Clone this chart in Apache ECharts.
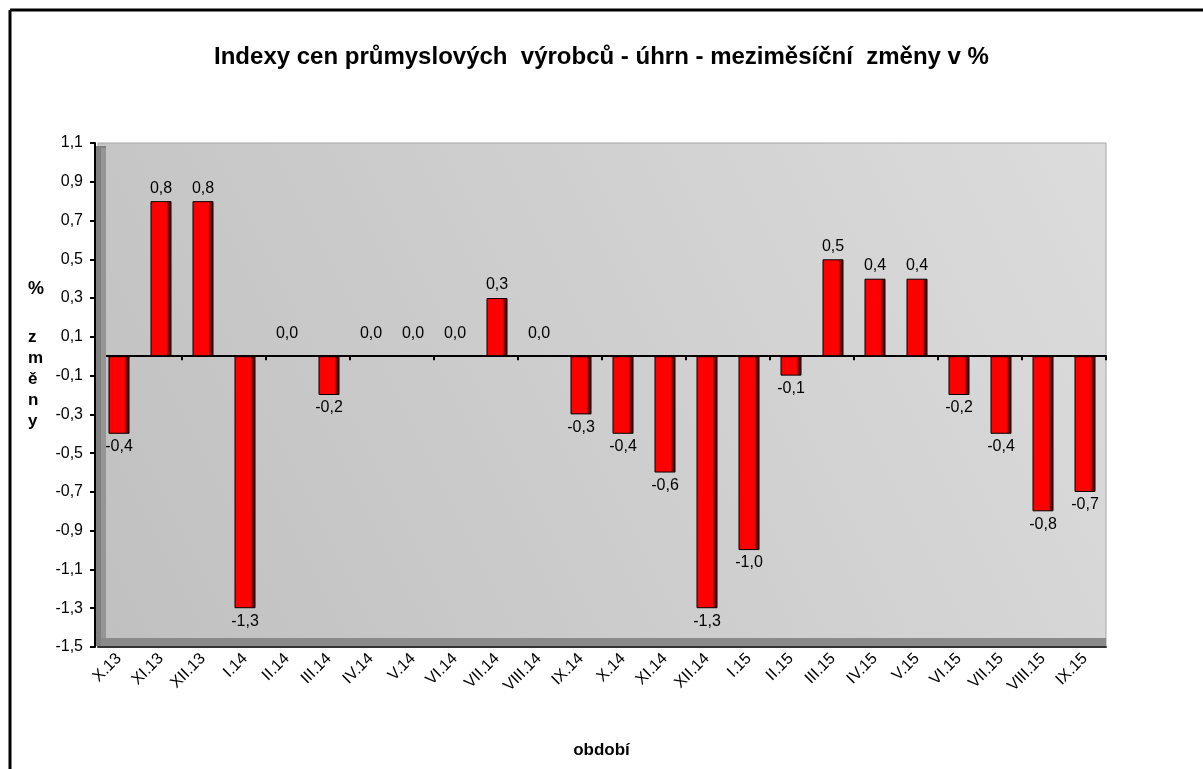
<!DOCTYPE html>
<html>
<head>
<meta charset="utf-8">
<script src="https://cdn.jsdelivr.net/npm/echarts@6/dist/echarts.min.js"></script>
<style>
html,body{margin:0;padding:0;background:#fff;}
#chart{width:1203px;height:769px;}
</style>
</head>
<body>
<div id="chart"></div>
<script>
const categories = ['X.13','XI.13','XII.13','I.14','II.14','III.14','IV.14','V.14','VI.14','VII.14','VIII.14','IX.14','X.14','XI.14','XII.14','I.15','II.15','III.15','IV.15','V.15','VI.15','VII.15','VIII.15','IX.15'];
const changes = [-0.4,0.8,0.8,-1.3,0.0,-0.2,0.0,0.0,0.0,0.3,0.0,-0.3,-0.4,-0.6,-1.3,-1.0,-0.1,0.5,0.4,0.4,-0.2,-0.4,-0.8,-0.7];
const yMin = -1.5, yMax = 1.1, yStep = 0.2;
const titleText = 'Indexy cen průmyslových  výrobců - úhrn - meziměsíční  změny v %';
const xName = 'období';

const FONT = 'Liberation Sans, Arial, sans-serif';
const fmt = v => v.toFixed(1).replace('.', ',');

const barData = changes.map(v => ({
  value: v,
  label: { position: v < 0 ? 'bottom' : 'top', distance: v === 0 ? 14 : 5 }
}));

const chart = echarts.init(document.getElementById('chart'), null, {renderer:'canvas'});
chart.setOption({
  animation: false,
  backgroundColor: '#ffffff',
  title: [
    { text: titleText, left: 'center', top: 40,
      textStyle: { fontFamily: FONT, fontSize: 24, fontWeight: 'bold', color: '#000' } },
    { text: '%', left: 23, top: 275,
      textStyle: { fontFamily: FONT, fontSize: 18, fontWeight: 'bold', color: '#000' } },
    { text: 'z\nm\ně\nn\ny', left: 23, top: 322,
      textStyle: { fontFamily: FONT, fontSize: 17, fontWeight: 'bold', color: '#000', lineHeight: 21, align: 'center', width: 20 } },
    { text: xName, left: 'center', top: 737,
      textStyle: { fontFamily: FONT, fontSize: 17, fontWeight: 'bold', color: '#000' } }
  ],
  graphic: [
    { type: 'line', shape: { x1: 10, y1: 10, x2: 10, y2: 769 }, style: { stroke: '#000', lineWidth: 3 }, z: 10 },
    { type: 'line', shape: { x1: 10, y1: 10, x2: 1203, y2: 10 }, style: { stroke: '#000', lineWidth: 3 }, z: 10 },
    { type: 'rect', shape: { x: 96, y: 146, width: 10, height: 500 }, style: { fill: '#7f7f7f' }, z: 1 },
    { type: 'rect', shape: { x: 101, y: 148, width: 5, height: 492 }, style: { fill: '#959595' }, z: 1 },
    { type: 'rect', shape: { x: 101, y: 638, width: 1005, height: 8 }, style: { fill: '#8a8a8a' }, z: 1 }
  ],
  grid: {
    left: 98, right: 97, top: 143, bottom: 122,
    show: true,
    backgroundColor: {
      type: 'linear', x: 0, y: 1, x2: 1, y2: 0,
      colorStops: [{ offset: 0, color: '#c0c0c0' }, { offset: 1, color: '#dcdcdc' }]
    },
    borderColor: '#a6a6a6', borderWidth: 1
  },
  xAxis: [
    {
      type: 'category', data: categories, position: 'bottom',
      axisLine: { onZero: false, lineStyle: { color: '#333', width: 2 } },
      axisTick: { show: false },
      axisLabel: { rotate: 45, fontFamily: FONT, fontSize: 16, color: '#000', margin: 9, interval: 0 },
      splitLine: { show: false }
    },
    {
      type: 'category', data: categories, position: 'bottom',
      axisLine: { onZero: true, lineStyle: { color: '#000', width: 2 } },
      axisTick: { show: true, length: 4, lineStyle: { color: '#000', width: 2 } },
      axisLabel: { show: false },
      splitLine: { show: false }
    }
  ],
  yAxis: {
    type: 'value', min: yMin, max: yMax, interval: yStep, offset: 3,
    axisLine: { show: true, onZero: false, lineStyle: { color: '#000', width: 2 } },
    axisTick: { show: true, length: 5, lineStyle: { color: '#000', width: 2 } },
    axisLabel: { fontFamily: FONT, fontSize: 16, color: '#000', margin: 12, formatter: v => fmt(v) },
    splitLine: { show: false }
  },
  series: [{
    type: 'bar',
    xAxisIndex: 0,
    data: barData,
    barWidth: '50%',
    itemStyle: {
      color: {
        type: 'linear', x: 0, y: 0, x2: 1, y2: 0,
        colorStops: [
          { offset: 0, color: '#ff0000' }, { offset: 0.76, color: '#ff0000' },
          { offset: 0.8, color: '#990000' }, { offset: 1, color: '#400000' }
        ]
      },
      borderColor: '#000', borderWidth: 1
    },
    label: {
      show: true, fontFamily: FONT, fontSize: 16, color: '#000',
      formatter: p => fmt(p.value)
    },
    z: 3
  }]
});
</script>
</body>
</html>
